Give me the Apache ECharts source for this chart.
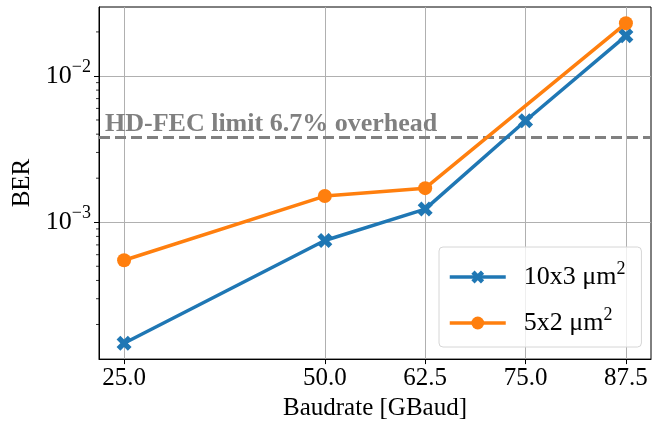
<!DOCTYPE html>
<html>
<head>
<meta charset="utf-8">
<script src="https://cdn.jsdelivr.net/npm/echarts@6/dist/echarts.min.js"></script>
<style>html,body{margin:0;padding:0;background:#fff}#c{width:664px;height:426px}</style>
</head>
<body>
<div id="c"></div>
<script>
// ---- data ----
const seriesNames = ['10x3 μm{sup|2}', '5x2 μm{sup|2}'];
const baudBlue = [25, 50, 62.5, 75, 87.5];
const berBlue = [1.49e-4, 7.5e-4, 1.23e-3, 4.94e-3, 1.88e-2];
const baudOrange = [25, 50, 62.5, 87.5];
const berOrange = [5.5e-4, 1.51e-3, 1.71e-3, 2.29e-2];
const xTicks = [25, 50, 62.5, 75, 87.5];
const yTicks = [1e-3, 1e-2];
const yMinorTicks = [2e-4,3e-4,4e-4,5e-4,6e-4,7e-4,8e-4,9e-4,2e-3,3e-3,4e-3,5e-3,6e-3,7e-3,8e-3,9e-3,2e-2];
const fecLimit = 3.8e-3;
const fecLabel = 'HD-FEC limit 6.7% overhead';
const xTitle = 'Baudrate [GBaud]';
const yTitle = 'BER';

const X_MIN = 21.875, X_MAX = 90.625;
const Y_MIN = 1.16e-4, Y_MAX = 0.0296;
const FONT = "'Liberation Serif', 'DejaVu Serif', serif";
const BLUE = '#1f77b4', ORANGE = '#ff7f0e';
const XSYM = 'path://M2.5,0 L5,2.5 L7.5,0 L10,2.5 L7.5,5 L10,7.5 L7.5,10 L5,7.5 L2.5,10 L0,7.5 L2.5,5 L0,2.5 Z';

const chart = echarts.init(document.getElementById('c'), null, {renderer: 'canvas'});
const option = {
  animation: false,
  backgroundColor: '#fff',
  textStyle: {fontFamily: FONT},
  grid: {left: 99, right: 13, top: 7, bottom: 62, show: true, borderColor: '#000', borderWidth: 1, containLabel: false},
  legend: {
    orient: 'vertical',
    left: 439, top: 247,
    padding: [13, 16, 11, 9],
    itemGap: 16,
    itemWidth: 56, itemHeight: 16,
    backgroundColor: 'rgba(255,255,255,0.8)',
    borderColor: '#d6d6d6', borderWidth: 1, borderRadius: 4,
    data: [seriesNames[0], seriesNames[1]],
    lineStyle: {width: 3.5},
    formatter: n => n,
    textStyle: {
      fontFamily: FONT, fontSize: 26, color: '#000', padding: [0,0,0,13],
      rich: {sup: {fontSize: 18, fontFamily: FONT, verticalAlign: 'top', padding: [0,0,16,0]}}
    }
  },
  xAxis: {
    type: 'value', min: X_MIN, max: X_MAX,
    name: xTitle, nameLocation: 'middle', nameGap: 25,
    nameTextStyle: {fontFamily: FONT, fontSize: 25, color: '#000'},
    axisLine: {show: true, onZero: false, lineStyle: {color: '#000', width: 1}},
    axisTick: {show: true, length: 5, lineStyle: {color: '#000', width: 1}, customValues: xTicks},
    axisLabel: {fontFamily: FONT, fontSize: 25, color: '#000', margin: 7, customValues: xTicks,
      formatter: v => Number(v).toFixed(1)},
    splitLine: {show: true, lineStyle: {color: '#b0b0b0', width: 1}}
  },
  yAxis: {
    type: 'log', logBase: 10, min: Y_MIN, max: Y_MAX,
    name: yTitle, nameLocation: 'middle', nameGap: 60,
    nameTextStyle: {fontFamily: FONT, fontSize: 25, color: '#000'},
    axisLine: {show: true, onZero: false, lineStyle: {color: '#000', width: 1}},
    axisTick: {show: true, length: 5, lineStyle: {color: '#000', width: 1}, customValues: yTicks},
    axisLabel: {
      fontFamily: FONT, fontSize: 26, color: '#000', margin: 8, customValues: yTicks,
      formatter: v => '10{sup|−' + Math.round(-Math.log10(v)) + '}',
      rich: {sup: {fontSize: 18, fontFamily: FONT, verticalAlign: 'top', padding: [0,0,18,0]}}
    },
    splitLine: {show: true, lineStyle: {color: '#b0b0b0', width: 1}}
  },
  series: [
    {
      name: 'fec', type: 'line', silent: true, z: 2,
      data: [
        {value: [X_MIN, fecLimit], label: {show: true, position: 'top', align: 'left', offset: [6, 5],
          formatter: fecLabel, fontFamily: FONT, fontSize: 26, fontWeight: 'bold', color: '#808080'}},
        {value: [X_MAX, fecLimit]}
      ],
      showSymbol: true, symbol: 'circle', symbolSize: 1,
      lineStyle: {color: '#808080', width: 3, type: [11, 5]},
      itemStyle: {color: 'rgba(0,0,0,0)'}
    },
    {
      name: seriesNames[0], type: 'line',
      data: baudBlue.map((x, i) => [x, berBlue[i]]),
      symbol: XSYM, symbolSize: 15, showSymbol: true,
      lineStyle: {color: BLUE, width: 3.5}, itemStyle: {color: BLUE},
      z: 3
    },
    {
      name: seriesNames[1], type: 'line',
      data: baudOrange.map((x, i) => [x, berOrange[i]]),
      symbol: 'circle', symbolSize: 14, showSymbol: true,
      lineStyle: {color: ORANGE, width: 3.5}, itemStyle: {color: ORANGE},
      z: 4
    },
    {
      name: 'minorTicks', type: 'custom', silent: true, clip: false,
      data: yMinorTicks.map(v => [X_MIN, v]),
      renderItem: (params, api) => {
        const p = api.coord([api.value(0), api.value(1)]);
        return {type: 'line', shape: {x1: p[0] - 3, y1: p[1], x2: p[0], y2: p[1]},
          style: {stroke: '#000', lineWidth: 0.8}};
      }
    }
  ]
};
chart.setOption(option);
</script>
</body>
</html>
